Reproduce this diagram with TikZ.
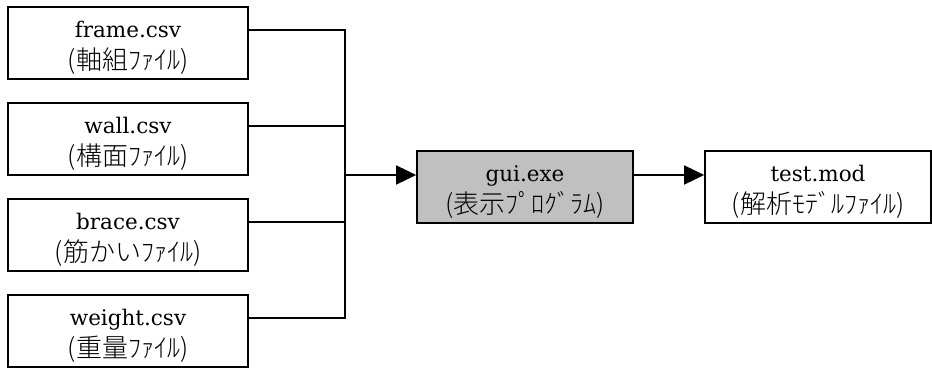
\documentclass[tikz,border=0pt]{standalone}
\usepackage{fontspec}
\setmainfont{DejaVu Serif}
\newfontfamily\jpfont{Noto Sans CJK JP Light}
\usetikzlibrary{arrows.meta}
\definecolor{progfill}{RGB}{192,192,192}
\newcommand{\twoline}[2]{\rule{0pt}{26pt}#1\\{\jpfont\fontsize{26}{32}\selectfont #2}}

\begin{document}
\begin{tikzpicture}[x=1pt,y=1pt,
    filebox/.style={draw,line width=1.7pt,minimum width=240pt,minimum height=72pt,
      inner sep=0pt,align=center,font=\fontsize{21.5}{32}\selectfont},
    wire/.style={line width=1.7pt},
    tip/.style={-{Triangle[length=20pt,width=19pt]}}]
    \useasboundingbox (0,0) rectangle (932,367);
    \node[filebox] (frame) at (128,324) {\twoline{frame.csv}{(軸組ﾌｧｲﾙ)}};
    \node[filebox] (wall) at (128,228) {\twoline{wall.csv}{(構面ﾌｧｲﾙ)}};
    \node[filebox] (brace) at (128,132) {\twoline{brace.csv}{(筋かいﾌｧｲﾙ)}};
    \node[filebox] (weight) at (128,36) {\twoline{weight.csv}{(重量ﾌｧｲﾙ)}};
    \node[filebox,fill=progfill,minimum width=216pt] (gui) at (525,180) {\twoline{gui.exe}{(表示ﾌﾟﾛｸﾞﾗﾑ)}};
    \node[filebox,minimum width=226pt] (test) at (818,180) {\twoline{test.mod}{(解析ﾓﾃﾞﾙﾌｧｲﾙ)}};
    \coordinate (bus) at (345,192);
    \draw[wire] ([yshift=-24pt]frame.north east) -| (bus);
    \draw[wire] ([yshift=-24pt]wall.north east) -| (bus);
    \draw[wire] ([yshift=-24pt]brace.north east) -| (bus);
    \draw[wire] ([yshift=-24pt]weight.north east) -| (bus);
    \draw[wire,tip] (bus) -- (gui.west |- bus);
    \draw[wire,tip] (gui.east |- bus) -- (test.west |- bus);
\end{tikzpicture}
\end{document}
